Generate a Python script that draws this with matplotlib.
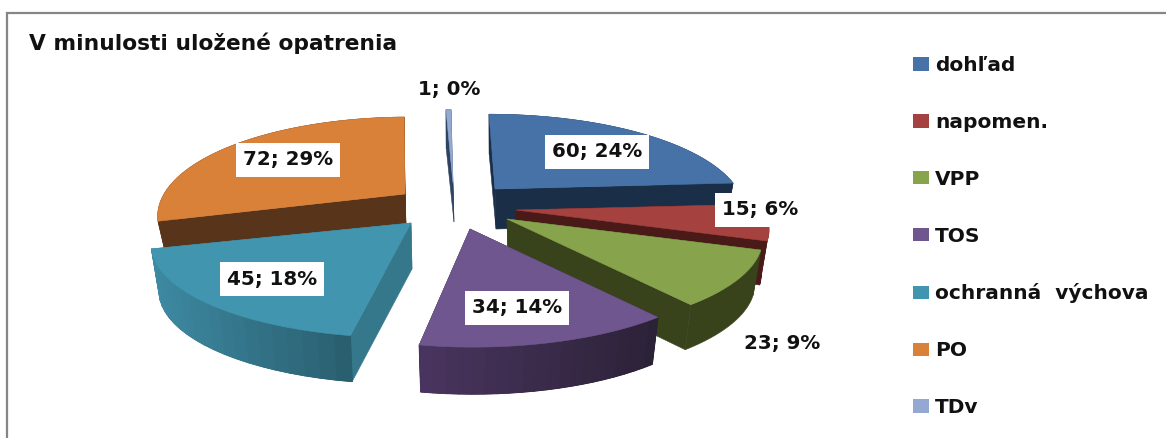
import numpy as np
import matplotlib
matplotlib.use("Agg")
import matplotlib.pyplot as plt
from matplotlib.patches import Polygon, Patch
from matplotlib.collections import PolyCollection
from matplotlib.colors import to_rgb

title = "V minulosti uložené opatrenia"
categories = ["dohľad", "napomen.", "VPP", "TOS", "ochranná  výchova", "PO", "TDv"]
values = [60, 15, 23, 34, 45, 72, 1]

top_colors = ["#4672A8", "#A5413F", "#87A34C", "#70568E", "#4195AE", "#D98139", "#94A9D2"]
side_colors = ["#1A2E47", "#4A1A18", "#38431C", "#2C2238", "#35788C", "#57341A", "#2F4360"]
arc_left = ["#1A2E47", "#4A1A18", "#38431C", "#4A3560", "#3D8AA3", "#57341A", "#2F4360"]
arc_right = ["#1A2E47", "#4A1A18", "#38431C", "#2C2238", "#2A5F70", "#57341A", "#2F4360"]

# layout in pixels: apex of every exploded slice and its extrusion
apex_x = [495, 516, 507, 470, 411, 405, 453]
apex_y = [189, 210, 219, 229, 223, 194, 183]
depth = [40, 44, 45, 47, 46, 32, 39]
scale_x = [0.95, 0.97, 0.98, 0.99, 0.99, 0.945, 1.0]
scale_y = [1.02, 1.0, 1.0, 1.03, 1.0, 1.05, 1.0]
skew = [-6, 0, 0, -3, 7, 4, -2]
label_xy = [(597, 152), (760, 210), (782, 344), (517, 308), (272, 279), (288, 160), (449, 90)]
RX, RY, PERSP, BOTTOM_K = 255, 94, 0.22, 0.97

total = sum(values)
edges = np.concatenate([[0], np.cumsum(values)]) / total * 2 * np.pi

W, H = 1166, 438
fig = plt.figure(figsize=(W / 100, H / 100), dpi=100)
ax = fig.add_axes([0, 0, 1, 1])
ax.set_xlim(0, W)
ax.set_ylim(H, 0)
ax.axis("off")

ax.plot([7, 7, W], [H, 13, 13], color="#868686", lw=1.6, zorder=1, solid_joinstyle="miter")


def project(theta, i):
    u, v = np.sin(theta), np.cos(theta)
    s = 1 - PERSP * v
    return (RX * scale_x[i] * u * s + skew[i] * v, -RY * scale_y[i] * v * s)


def mix(a, b, t):
    a, b = np.array(to_rgb(a)), np.array(to_rgb(b))
    return tuple(a + (b - a) * t)


def draw_slice(i, z):
    th = np.linspace(edges[i], edges[i + 1], 81)
    dx, dy = project(th, i)
    ax0, ay0, d = apex_x[i], apex_y[i], depth[i]
    tx, ty = ax0 + dx, ay0 + dy
    bx, by = ax0 + BOTTOM_K * dx, ay0 + dy + d
    # radial walls
    for k in (0, -1):
        ax.add_patch(Polygon([(ax0, ay0), (tx[k], ty[k]), (bx[k], by[k]), (ax0 + 1, ay0 + d)],
                             closed=True, fc=side_colors[i], ec=side_colors[i], lw=0.4, zorder=z))
    # outer wall, shaded in coarse strips over a solid base
    base = np.column_stack([np.r_[tx, bx[::-1]], np.r_[ty, by[::-1]]])
    ax.add_patch(Polygon(base, closed=True, fc=arc_right[i], ec=arc_right[i], lw=0.4, zorder=z + 0.05))
    if arc_left[i] != arc_right[i]:
        xmin, xmax = min(tx.min(), bx.min()), max(tx.max(), bx.max())
        quads, cols = [], []
        for k in range(0, len(th) - 4, 4):
            quads.append([(tx[k], ty[k]), (tx[k + 4], ty[k + 4]), (bx[k + 4], by[k + 4]), (bx[k], by[k])])
            cols.append(mix(arc_left[i], arc_right[i], (tx[k] - xmin) / max(xmax - xmin, 1)))
        ax.add_collection(PolyCollection(quads, facecolors=cols, edgecolors=cols, linewidths=0.8, zorder=z + 0.1))
    # top face
    ax.add_patch(Polygon(np.column_stack([np.r_[ax0, tx], np.r_[ay0, ty]]), closed=True,
                         fc=top_colors[i], ec=top_colors[i], lw=0.4, zorder=z + 0.2))


for z, i in enumerate([6, 0, 5, 1, 2, 3, 4]):
    draw_slice(i, 2 + z)

for i, (lx, ly) in enumerate(label_xy):
    ax.text(lx, ly, f"{values[i]}; {round(100 * values[i] / total)}%", ha="center", va="center",
            fontsize=14.3, fontweight="bold", color="#111111", family="DejaVu Sans", zorder=20,
            bbox=dict(boxstyle="square,pad=0.36", fc="white", ec="none"))

ax.text(29, 50, title, fontsize=15.7, fontweight="bold", color="#111111", family="DejaVu Sans",
        ha="left", va="baseline", zorder=20)

handles = [Patch(fc=c, ec="none") for c in top_colors]
leg = ax.legend(handles, categories, loc="upper left", bbox_to_anchor=(913 / W, 1 - 56 / H),
                bbox_transform=fig.transFigure, frameon=False, borderpad=0, borderaxespad=0,
                handlelength=0.8, handleheight=0.65, handletextpad=0.3, labelspacing=1.88,
                prop=dict(family="DejaVu Sans", weight="bold", size=14.5))
for t in leg.get_texts():
    t.set_color("#111111")

fig.savefig("out.png", dpi=100, facecolor="white")
